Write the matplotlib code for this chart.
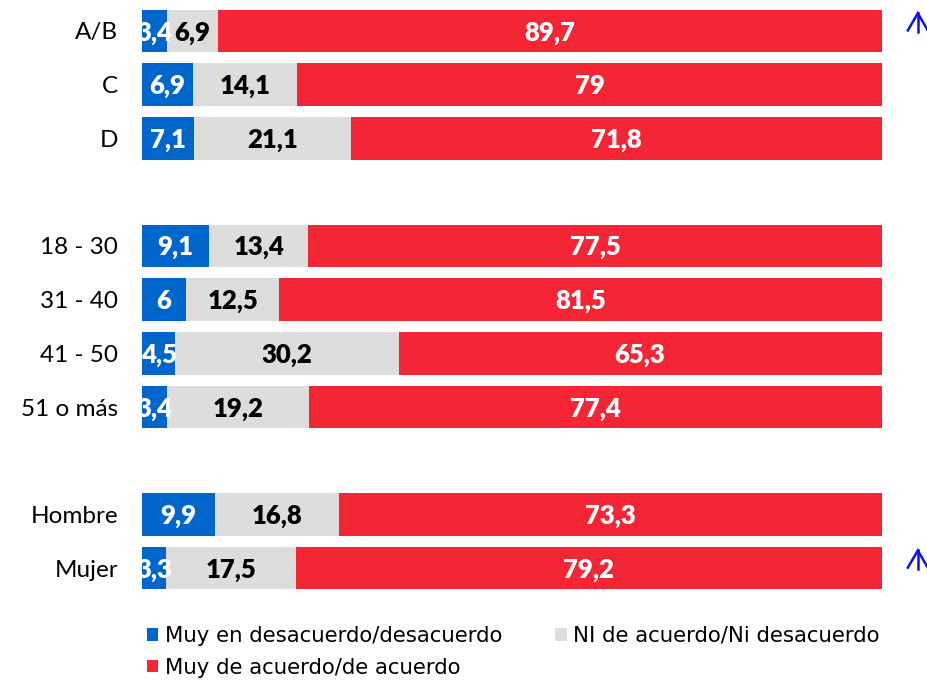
import matplotlib
matplotlib.use("Agg")
import matplotlib.pyplot as plt
import numpy as np

categories = ["A/B", "C", "D", "", "18 - 30", "31 - 40", "41 - 50", "51 o más", "", "Hombre", "Mujer"]
desacuerdo = [3.4, 6.9, 7.1, 0, 9.1, 6.0, 4.5, 3.4, 0, 9.9, 3.3]
ni = [6.9, 14.1, 21.1, 0, 13.4, 12.5, 30.2, 19.2, 0, 16.8, 17.5]
acuerdo = [89.7, 79.0, 71.8, 0, 77.5, 81.5, 65.3, 77.4, 0, 73.3, 79.2]
series_names = ["Muy en desacuerdo/desacuerdo", "NI de acuerdo/Ni desacuerdo", "Muy de acuerdo/de acuerdo"]
colors = ["#0066CC", "#DDDDDD", "#F42534"]
text_colors = ["white", "black", "white"]
arrow_rows = ["A/B", "Mujer"]

fig = plt.figure(figsize=(9.28, 6.84), dpi=100)
ax = fig.add_axes([0.153, 0.130, 0.797, 0.864])

y = np.arange(len(categories))
left = np.zeros(len(categories))
handles = []
for vals, col, tcol, name in zip([desacuerdo, ni, acuerdo], colors, text_colors, series_names):
    vals = np.array(vals)
    b = ax.barh(y, vals, left=left, height=0.79, color=col, label=name)
    handles.append(b)
    for yi, (l, v) in enumerate(zip(left, vals)):
        if categories[yi] == "" or v == 0:
            continue
        s = (f"{v:.0f}" if float(v).is_integer() else f"{v:.1f}").replace(".", ",")
        ax.text(l + v / 2, yi + 0.03, s, ha="center", va="center", color=tcol,
                fontsize=18.5, fontweight="heavy", family="Lato")
    left = left + vals

ax.set_xlim(0, 100)
ax.set_ylim(len(categories) - 0.5, -0.5)
ax.set_yticks(y)
ax.set_yticklabels(categories, fontsize=17.5, family="Lato")
ax.tick_params(axis="y", length=0, pad=17)
ax.set_xticks([])
for s in ax.spines.values():
    s.set_visible(False)

# blue arrows at right
ax_x = 104.9
for cat in arrow_rows:
    yi = categories.index(cat)
    top = yi - 0.33
    ax.plot([ax_x, ax_x], [top, yi + 0.02], color="#1010EE", lw=1.8, clip_on=False)
    ax.plot([ax_x - 1.35, ax_x, ax_x + 1.35], [yi - 0.01, top, yi - 0.01],
            color="#1010EE", lw=1.8, clip_on=False, solid_joinstyle="miter")

order = [0, 2, 1]
leg = fig.legend(handles=[handles[i] for i in order],
                 labels=[series_names[i] for i in order], loc="upper left",
                 bbox_to_anchor=(0.158, 0.085), ncol=2, frameon=False,
                 handlelength=0.55, handleheight=0.55, handletextpad=0.3,
                 columnspacing=2.5, labelspacing=0.55, borderaxespad=0, borderpad=0,
                 prop={"family": "DejaVu Sans", "size": 15.3})

fig.savefig("out.png", dpi=100)
